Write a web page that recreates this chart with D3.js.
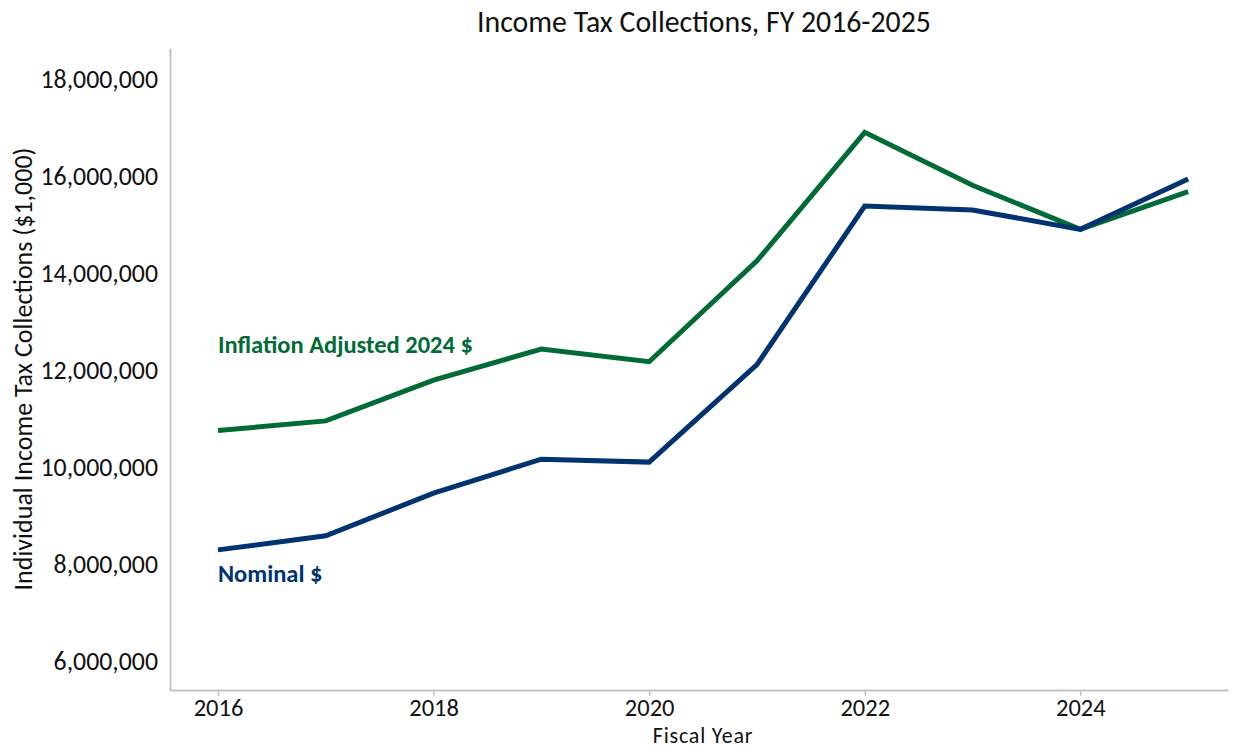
<!DOCTYPE html>
<html>
<head>
<meta charset="utf-8">
<script src="https://cdn.jsdelivr.net/npm/d3@7"></script>
<style>
  html, body { margin: 0; padding: 0; background: #fff; }
  svg { display: block; font-family: Carlito, Lato, sans-serif; }
</style>
</head>
<body>
<svg id="chart" width="1239" height="749"></svg>
<script>
// Fiscal years and income tax collections ($1,000)
const years = [2016, 2017, 2018, 2019, 2020, 2021, 2022, 2023, 2024, 2025];
const nominal = [8290000, 8580000, 9460000, 10160000, 10100000, 12110000, 15380000, 15300000, 14900000, 15940000];
const adjusted2024 = [10750000, 10950000, 11790000, 12430000, 12170000, 14250000, 16900000, 15810000, 14900000, 15680000];
const yTicks = [6000000, 8000000, 10000000, 12000000, 14000000, 16000000, 18000000];
const xTicks = [2016, 2018, 2020, 2022, 2024];

const titleText = "Income Tax Collections, FY 2016-2025";
const xTitle = "Fiscal Year";
const yTitle = "Individual Income Tax Collections ($1,000)";
const nominalLabel = "Nominal $";
const adjustedLabel = "Inflation Adjusted 2024 $";

const GREEN = "#006b36";
const BLUE = "#003370";
const AXIS = "#c4c4c4";
const FONT = "Carlito, Lato, sans-serif";

const svg = d3.select("#chart");

// Plot frame
const plotLeft = 170, plotRight = 1228, plotTop = 48, plotBottom = 690;

const x = d3.scaleLinear().domain([2015.555, 2025.37]).range([plotLeft, plotRight]);
const y = d3.scaleLinear().domain([5400000, 18640000]).range([plotBottom, plotTop]);

// Title
svg.append("text")
  .attr("x", 704).attr("y", 32)
  .attr("text-anchor", "middle")
  .attr("font-size", 29.8)
  .attr("fill", "#111")
  .text(titleText);

// Y axis
const yAxis = svg.append("g")
  .attr("transform", `translate(${plotLeft},0)`)
  .call(d3.axisLeft(y).tickValues(yTicks).tickSize(0).tickPadding(12)
    .tickFormat(d3.format(",")));
yAxis.select(".domain").attr("stroke", AXIS).attr("stroke-width", 2);
yAxis.selectAll("text").attr("font-size", 25.8).attr("fill", "#111")
  .attr("font-family", FONT);

// X axis
const xAxis = svg.append("g")
  .attr("transform", `translate(0,${plotBottom})`)
  .call(d3.axisBottom(x).tickValues(xTicks).tickSize(6).tickSizeOuter(0).tickPadding(2.6)
    .tickFormat(d3.format("d")));
xAxis.select(".domain").attr("stroke", AXIS).attr("stroke-width", 2);
xAxis.selectAll(".tick line").attr("stroke", AXIS).attr("stroke-width", 1.5);
xAxis.selectAll("text").attr("font-size", 24.5).attr("fill", "#111")
  .attr("font-family", FONT);

// Axis titles
svg.append("text")
  .attr("x", 703).attr("y", 743)
  .attr("text-anchor", "middle")
  .attr("font-size", 22)
  .attr("letter-spacing", 0.8)
  .attr("fill", "#111")
  .text(xTitle);

svg.append("text")
  .attr("transform", "translate(32,369) rotate(-90)")
  .attr("text-anchor", "middle")
  .attr("font-size", 26)
  .attr("fill", "#111")
  .text(yTitle);

// Series lines
const line = d3.line().x((d, i) => x(years[i])).y(d => y(d));

svg.append("path")
  .datum(adjusted2024)
  .attr("d", line)
  .attr("fill", "none")
  .attr("stroke", GREEN)
  .attr("stroke-width", 5)
  .attr("stroke-linejoin", "miter");

svg.append("path")
  .datum(nominal)
  .attr("d", line)
  .attr("fill", "none")
  .attr("stroke", BLUE)
  .attr("stroke-width", 5)
  .attr("stroke-linejoin", "miter");

// Series labels
svg.append("text")
  .attr("x", x(years[0])).attr("y", y(adjusted2024[0]) - 78)
  .attr("font-size", 24.5).attr("font-weight", "bold")
  .attr("fill", GREEN)
  .text(adjustedLabel);

svg.append("text")
  .attr("x", x(years[0])).attr("y", y(nominal[0]) + 32)
  .attr("font-size", 24.5).attr("font-weight", "bold")
  .attr("fill", BLUE)
  .text(nominalLabel);
</script>
</body>
</html>
